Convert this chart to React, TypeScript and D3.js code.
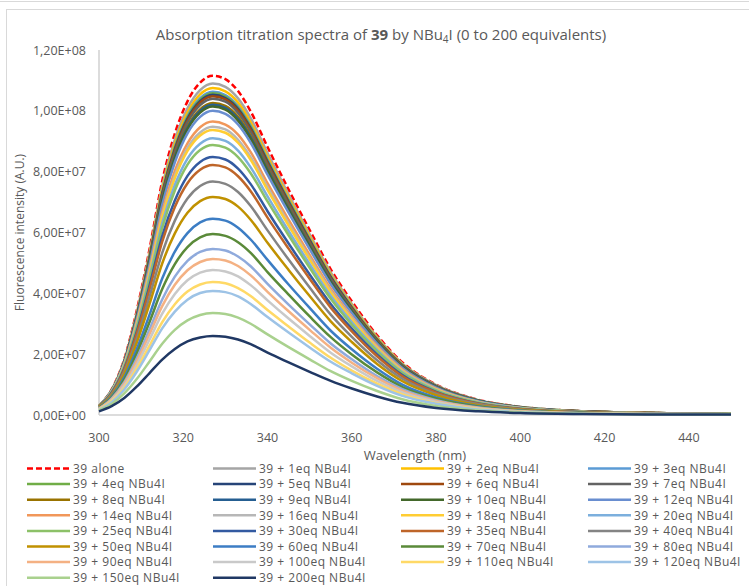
import React from "react";
import * as d3 from "d3";

// Wavelengths (nm)
const wavelengths = [300, 303, 306, 309, 312, 315, 318, 321, 324, 327, 330, 333, 336, 340, 345, 350, 355, 360, 366, 372, 380, 390, 400, 415, 430, 450];

// Intensities in millions (×1e6 A.U.)
const alone = [3.1, 8.4, 18.4, 34.6, 54.6, 76.9, 92.5, 103.1, 109.3, 111.5, 110.4, 106.5, 99.8, 88.1, 74.1, 60.8, 47.9, 37.4, 26.2, 17.3, 10.0, 5.0, 2.7, 1.2, 0.7, 0.35];
const eq1 = [3.05, 8.2, 18.0, 33.8, 53.4, 75.2, 90.5, 100.8, 106.8, 109, 107.9, 104.1, 97.6, 86.1, 72.5, 59.4, 46.9, 36.5, 25.6, 16.9, 9.8, 4.9, 2.6, 1.2, 0.65, 0.33];
const eq2 = [3.0, 8.1, 17.7, 33.3, 52.7, 74.2, 89.2, 99.4, 105.4, 107.5, 106.4, 102.7, 96.2, 84.9, 71.5, 58.6, 46.2, 36.0, 25.3, 16.7, 9.7, 4.8, 2.6, 1.2, 0.65, 0.32];
const eq3 = [3.0, 8.0, 17.5, 33.0, 52.1, 73.3, 88.2, 98.3, 104.2, 106.3, 105.2, 101.5, 95.1, 84.0, 70.7, 57.9, 45.7, 35.6, 25.0, 16.5, 9.6, 4.8, 2.6, 1.2, 0.64, 0.32];
const eq4 = [3.0, 7.9, 17.5, 32.8, 51.8, 73.0, 87.8, 97.9, 103.7, 105.8, 104.7, 101.0, 94.7, 83.6, 70.4, 57.7, 45.5, 35.4, 24.9, 16.4, 9.5, 4.8, 2.5, 1.2, 0.63, 0.32];
const eq5 = [2.9, 7.9, 17.4, 32.6, 51.6, 72.7, 87.4, 97.4, 103.2, 105.3, 104.2, 100.6, 94.2, 83.2, 70.0, 57.4, 45.3, 35.3, 24.7, 16.3, 9.5, 4.7, 2.5, 1.2, 0.63, 0.32];
const eq6 = [2.9, 7.9, 17.3, 32.5, 51.4, 72.3, 87.0, 96.9, 102.7, 104.8, 103.8, 100.1, 93.8, 82.8, 69.7, 57.1, 45.1, 35.1, 24.6, 16.2, 9.4, 4.7, 2.5, 1.2, 0.63, 0.31];
const eq7 = [2.9, 7.8, 17.2, 32.2, 51.0, 71.8, 86.3, 96.2, 101.9, 104, 103.0, 99.3, 93.1, 82.2, 69.2, 56.7, 44.7, 34.8, 24.4, 16.1, 9.4, 4.7, 2.5, 1.1, 0.62, 0.31];
const eq8 = [2.9, 7.7, 16.9, 31.8, 50.3, 70.8, 85.2, 94.9, 100.5, 102.6, 101.6, 98.0, 91.8, 81.1, 68.2, 55.9, 44.1, 34.4, 24.1, 15.9, 9.2, 4.6, 2.5, 1.1, 0.62, 0.31];
const eq9 = [3.0, 8.0, 17.4, 32.2, 50.4, 70.5, 84.7, 94.4, 100.0, 102, 101.0, 97.4, 91.3, 80.6, 67.8, 55.6, 43.9, 34.2, 24.0, 15.8, 9.2, 4.6, 2.4, 1.1, 0.61, 0.31];
const eq10 = [3.0, 8.0, 17.3, 32.0, 50.2, 70.1, 84.2, 93.9, 99.4, 101.4, 100.4, 96.8, 90.8, 80.1, 67.4, 55.3, 43.6, 34.0, 23.8, 15.7, 9.1, 4.6, 2.4, 1.1, 0.61, 0.31];
const eq12 = [3.0, 8.0, 17.2, 31.7, 49.5, 69.1, 83.1, 92.6, 98.0, 100, 99.0, 95.5, 89.5, 79.0, 66.5, 54.5, 43.0, 33.5, 23.5, 15.5, 9.0, 4.5, 2.4, 1.1, 0.6, 0.3];
const eq14 = [3.0, 7.8, 16.8, 30.8, 48.0, 66.8, 80.2, 89.3, 94.6, 96.5, 95.5, 92.2, 86.4, 76.2, 64.2, 52.6, 41.5, 32.3, 22.7, 15.0, 8.7, 4.3, 2.3, 1.1, 0.58, 0.3];
const eq16 = [3.0, 7.8, 16.6, 30.3, 47.2, 65.6, 78.8, 87.8, 92.9, 94.8, 93.9, 90.5, 84.8, 74.9, 63.0, 51.7, 40.8, 31.8, 22.3, 14.7, 8.5, 4.3, 2.3, 1.0, 0.57, 0.3];
const eq18 = [3.0, 7.7, 16.4, 30.0, 46.7, 64.9, 77.9, 86.8, 91.9, 93.7, 92.8, 89.5, 83.9, 74.0, 62.3, 51.1, 40.3, 31.4, 22.0, 14.5, 8.4, 4.2, 2.2, 1.0, 0.56, 0.3];
const eq20 = [2.9, 7.6, 16.1, 29.3, 45.5, 63.0, 75.6, 84.3, 89.2, 91, 90.1, 86.9, 81.4, 71.9, 60.5, 49.6, 39.1, 30.5, 21.4, 14.1, 8.2, 4.1, 2.2, 1.0, 0.55, 0.3];
const eq25 = [2.9, 7.5, 15.8, 28.7, 44.5, 61.5, 73.8, 82.3, 87.1, 88.8, 87.9, 84.8, 79.5, 70.2, 59.1, 48.4, 38.2, 29.7, 20.9, 13.8, 8.0, 4.0, 2.1, 1.0, 0.53, 0.3];
const eq30 = [2.8, 7.3, 15.3, 27.6, 42.6, 58.8, 70.5, 78.6, 83.2, 84.8, 84.0, 81.0, 75.9, 67.0, 56.4, 46.2, 36.5, 28.4, 19.9, 13.1, 7.6, 3.8, 2.0, 0.93, 0.51, 0.28];
const eq35 = [2.8, 7.1, 15.0, 26.9, 41.4, 57.0, 68.4, 76.2, 80.6, 82.2, 81.4, 78.5, 73.6, 64.9, 54.7, 44.8, 35.3, 27.5, 19.3, 12.7, 7.4, 3.7, 2.0, 0.9, 0.49, 0.28];
const eq40 = [2.7, 6.8, 14.2, 25.3, 38.9, 53.3, 63.9, 71.2, 75.3, 76.8, 76.0, 73.3, 68.7, 60.7, 51.1, 41.9, 33.0, 25.7, 18.0, 11.9, 6.9, 3.5, 1.8, 0.85, 0.46, 0.27];
const eq50 = [2.6, 6.5, 13.5, 23.9, 36.5, 49.8, 59.7, 66.5, 70.3, 71.7, 71.0, 68.5, 64.2, 56.6, 47.7, 39.1, 30.8, 24.0, 16.8, 11.1, 6.5, 3.2, 1.7, 0.8, 0.43, 0.26];
const eq60 = [2.4, 6.1, 12.4, 21.8, 33.0, 44.9, 53.7, 59.8, 63.3, 64.5, 63.9, 61.6, 57.7, 51.0, 42.9, 35.2, 27.7, 21.6, 15.2, 10.0, 5.8, 2.9, 1.5, 0.71, 0.39, 0.25];
const eq70 = [2.3, 5.7, 11.6, 20.3, 30.6, 41.4, 49.6, 55.2, 58.4, 59.5, 58.9, 56.8, 53.3, 47.0, 39.6, 32.4, 25.6, 19.9, 14.0, 9.2, 5.4, 2.7, 1.4, 0.65, 0.36, 0.24];
const eq80 = [2.1, 5.4, 10.8, 18.7, 28.2, 38.0, 45.5, 50.7, 53.6, 54.6, 54.1, 52.1, 48.9, 43.1, 36.3, 29.8, 23.5, 18.3, 12.8, 8.5, 4.9, 2.5, 1.3, 0.6, 0.33, 0.23];
const eq90 = [2.1, 5.1, 10.3, 17.7, 26.6, 35.8, 42.8, 47.6, 50.3, 51.3, 50.8, 49.0, 45.9, 40.5, 34.1, 28.0, 22.1, 17.2, 12.1, 8.0, 4.6, 2.3, 1.2, 0.56, 0.31, 0.22];
const eq100 = [1.9, 4.8, 9.6, 16.6, 24.8, 33.3, 39.8, 44.3, 46.8, 47.7, 47.2, 45.6, 42.7, 37.7, 31.7, 26.0, 20.5, 16.0, 11.2, 7.4, 4.3, 2.1, 1.1, 0.52, 0.29, 0.21];
const eq110 = [1.8, 4.5, 8.9, 15.3, 22.8, 30.5, 36.4, 40.6, 42.9, 43.7, 43.3, 41.7, 39.1, 34.5, 29.1, 23.8, 18.8, 14.6, 10.3, 6.8, 3.9, 2.0, 1.05, 0.48, 0.27, 0.2];
const eq120 = [1.7, 4.2, 8.4, 14.3, 21.3, 28.5, 34.0, 37.9, 40.1, 40.8, 40.4, 39.0, 36.5, 32.2, 27.1, 22.2, 17.5, 13.7, 9.6, 6.3, 3.7, 1.8, 0.98, 0.45, 0.26, 0.19];
const eq150 = [1.5, 3.6, 7.1, 11.9, 17.6, 23.4, 28.0, 31.1, 32.9, 33.5, 33.2, 32.0, 30.0, 26.5, 22.3, 18.3, 14.4, 11.2, 7.9, 5.2, 3.0, 1.5, 0.8, 0.37, 0.22, 0.17];
const eq200 = [1.2, 2.9, 5.6, 9.4, 13.8, 18.2, 21.7, 24.2, 25.5, 26, 25.7, 24.8, 23.3, 20.5, 17.3, 14.2, 11.2, 8.7, 6.1, 4.0, 2.3, 1.2, 0.62, 0.29, 0.18, 0.15];

const seriesLabels = [
  "39 alone", "39 + 1eq NBu4I", "39 + 2eq NBu4I", "39 + 3eq NBu4I",
  "39 + 4eq NBu4I", "39 + 5eq NBu4I", "39 + 6eq NBu4I", "39 + 7eq NBu4I",
  "39 + 8eq NBu4I", "39 + 9eq NBu4I", "39 + 10eq NBu4I", "39 + 12eq NBu4I",
  "39 + 14eq NBu4I", "39 + 16eq NBu4I", "39 + 18eq NBu4I", "39 + 20eq NBu4I",
  "39 + 25eq NBu4I", "39 + 30eq NBu4I", "39 + 35eq NBu4I", "39 + 40eq NBu4I",
  "39 + 50eq NBu4I", "39 + 60eq NBu4I", "39 + 70eq NBu4I", "39 + 80eq NBu4I",
  "39 + 90eq NBu4I", "39 + 100eq NBu4I", "39 + 110eq NBu4I", "39 + 120eq NBu4I",
  "39 + 150eq NBu4I", "39 + 200eq NBu4I",
];

const seriesValues = [alone, eq1, eq2, eq3, eq4, eq5, eq6, eq7, eq8, eq9, eq10, eq12, eq14, eq16, eq18, eq20, eq25, eq30, eq35, eq40, eq50, eq60, eq70, eq80, eq90, eq100, eq110, eq120, eq150, eq200];

const seriesColors = [
  "#FF0000", "#A5A5A5", "#FFC000", "#5B9BD5", "#70AD47", "#264478", "#9E480E", "#636363",
  "#997300", "#255E91", "#43682B", "#698ED0", "#F1975A", "#B7B7B7", "#FFCD33", "#7CAFDD",
  "#8CC168", "#335AA1", "#BE6529", "#848484", "#C09100", "#3C7DC4", "#5A8A39", "#8FAADC",
  "#F4B183", "#C9C9C9", "#FFD966", "#9DC3E6", "#A9D18E", "#203864",
];

const xTicks = [300, 320, 340, 360, 380, 400, 420, 440];
const yTicks = [0, 2e7, 4e7, 6e7, 8e7, 1e8, 1.2e8];

const FONT = "'Open Sans', 'Noto Sans', sans-serif";
const TEXT = "#595959";

function fmtSci(v: number): string {
  if (v === 0) return "0,00E+00";
  const e = Math.floor(Math.log10(v) + 1e-9);
  const m = v / Math.pow(10, e);
  return m.toFixed(2).replace(".", ",") + "E+" + String(e).padStart(2, "0");
}

export default function App() {
  const W = 749, H = 586;
  const left = 99, right = 731, top = 50, bottom = 415;
  const x = d3.scaleLinear().domain([300, 450]).range([left, right]);
  const y = d3.scaleLinear().domain([0, 1.2e8]).range([bottom, top]);
  const line = d3.line<[number, number]>()
    .x((d) => x(d[0]))
    .y((d) => y(d[1]))
    .curve(d3.curveMonotoneX);

  const legendCols = [27, 213, 401, 588];
  const legendRow0 = 468.5;
  const legendRowH = 15.6;

  return (
    <svg width={W} height={H} style={{ position: "absolute", left: 0, top: 0, background: "#fff" }} fontFamily={FONT}>
      <rect x={0} y={0} width={W} height={H} fill="#fff" />
      <line x1={0} x2={W} y1={1.5} y2={1.5} stroke="#d9d9d9" strokeWidth={1} />
      <rect x={6.5} y={9.5} width={W + 10} height={H + 10} fill="#fff" stroke="#d9d9d9" strokeWidth={1} />

      {/* Title */}
      <text x={381} y={40} textAnchor="middle" fontSize={15} fill={TEXT}>
        Absorption titration spectra of <tspan fontWeight="bold">39</tspan> by NBu
        <tspan fontSize={10} dy={3}>4</tspan>
        <tspan dy={-3}>I (0 to 200 equivalents)</tspan>
      </text>

      {/* Axes */}
      <line x1={left} x2={left} y1={top} y2={bottom} stroke="#d0d0d0" strokeWidth={1.5} />
      <line x1={left} x2={right} y1={bottom} y2={bottom} stroke="#d0d0d0" strokeWidth={1.5} />

      {yTicks.map((t) => (
        <text key={"y" + t} x={86} y={y(t) + 4.5} textAnchor="end" fontSize={12.5} fill={TEXT}>
          {fmtSci(t)}
        </text>
      ))}
      {xTicks.map((t) => (
        <text key={"x" + t} x={x(t)} y={442} textAnchor="middle" fontSize={12.5} fill={TEXT}>
          {t}
        </text>
      ))}

      <text x={(left + right) / 2} y={460} textAnchor="middle" fontSize={13} fill={TEXT}>
        Wavelength (nm)
      </text>
      <text
        transform={`translate(24, ${(top + bottom) / 2}) rotate(-90)`}
        textAnchor="middle"
        fontSize={12}
        fill={TEXT}
      >
        Fluorescence intensity (A.U.)
      </text>

      {/* Series */}
      <g>
        {seriesValues.map((vals, i) => {
          const pts: [number, number][] = wavelengths.map((w, k) => [w, vals[k] * 1e6]);
          return (
            <path
              key={seriesLabels[i]}
              d={line(pts) || ""}
              fill="none"
              stroke={seriesColors[i]}
              strokeWidth={2.5}
              strokeDasharray={i === 0 ? "6 3" : undefined}
              strokeLinejoin="round"
            />
          );
        })}
      </g>

      {/* Legend */}
      {seriesLabels.map((lab, i) => {
        const col = i % 4;
        const row = Math.floor(i / 4);
        const lx = legendCols[col];
        const ly = legendRow0 + row * legendRowH;
        return (
          <g key={"lg" + i}>
            <line
              x1={lx}
              x2={lx + 43}
              y1={ly}
              y2={ly}
              stroke={seriesColors[i]}
              strokeWidth={2.5}
              strokeDasharray={i === 0 ? "6 3" : undefined}
            />
            <text x={lx + 46} y={ly + 4.3} fontSize={12} letterSpacing={0.5} fill={TEXT}>
              {lab}
            </text>
          </g>
        );
      })}
    </svg>
  );
}
